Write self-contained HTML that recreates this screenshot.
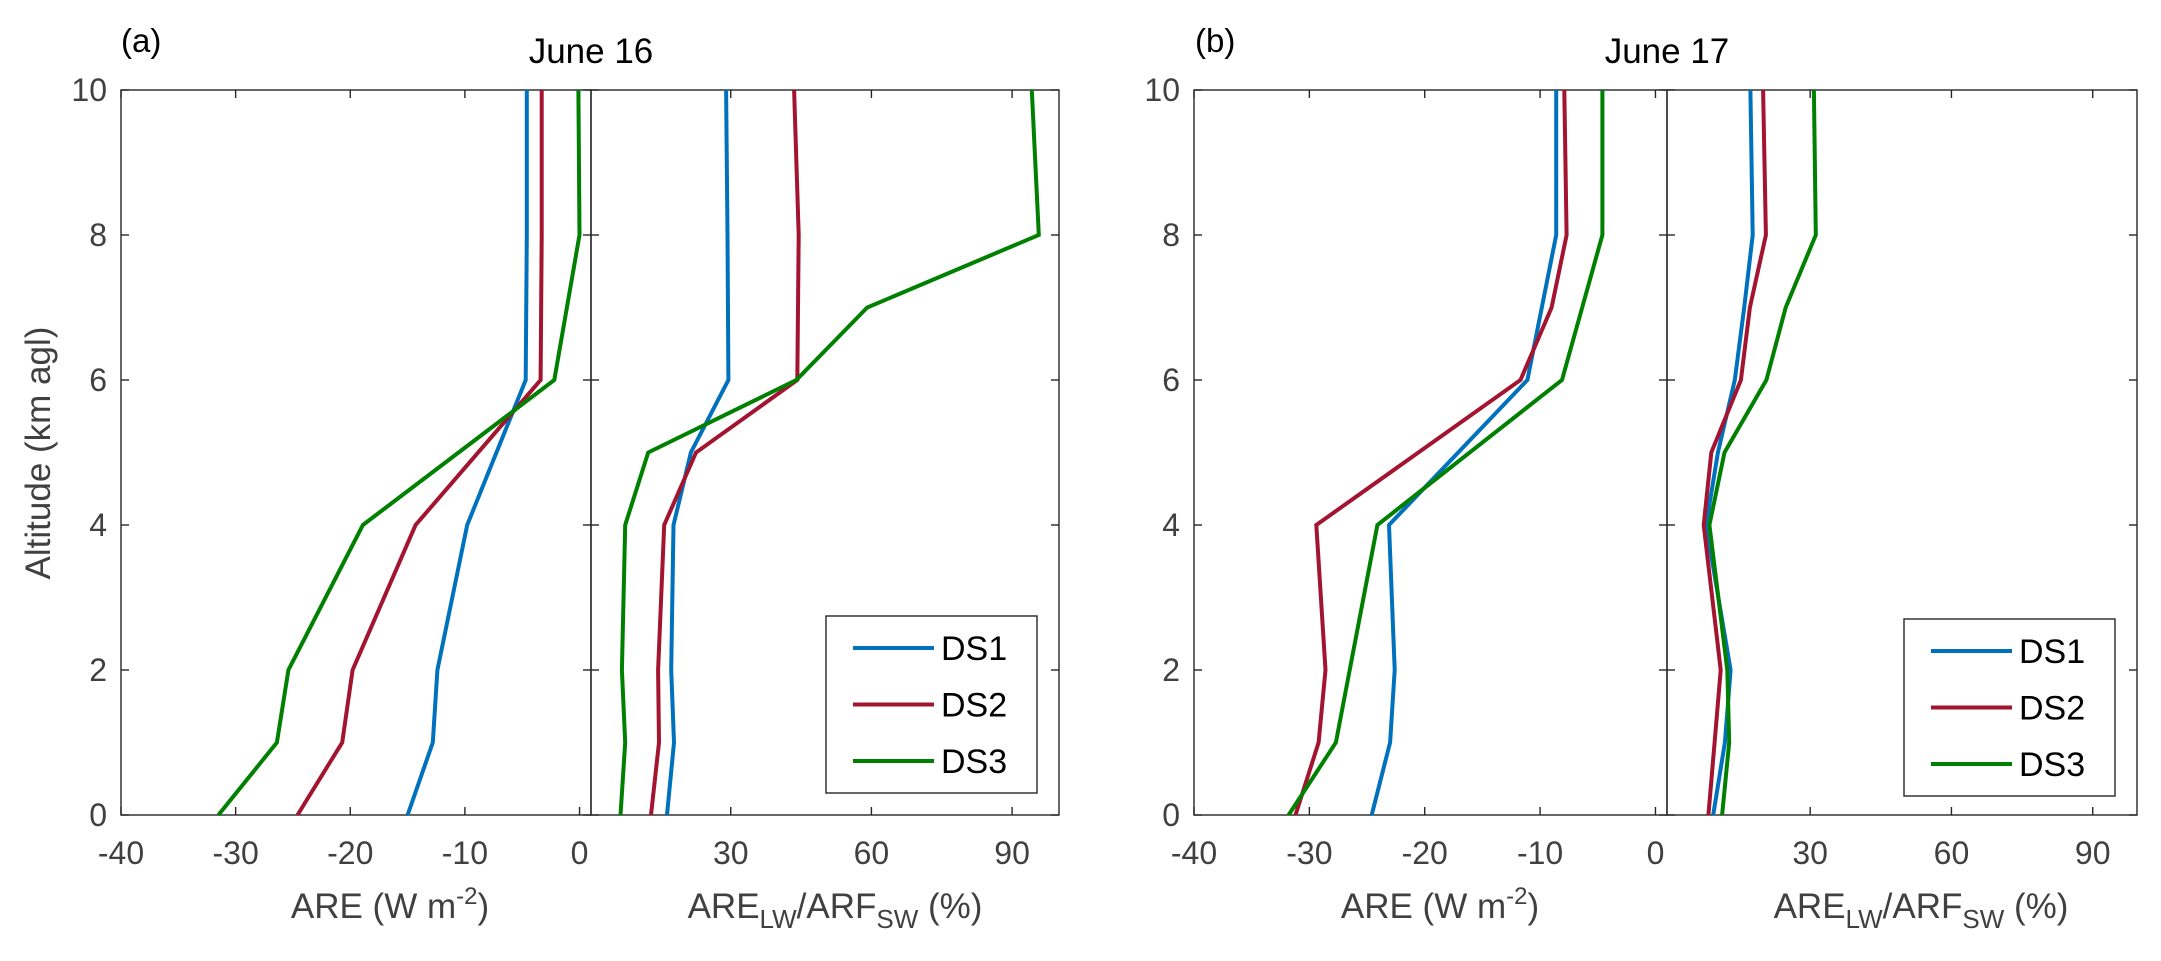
<!DOCTYPE html>
<html><head><meta charset="utf-8"><style>
body{margin:0;background:#fff}
svg{display:block;font-family:"Liberation Sans",Arial,sans-serif}
</style></head><body>
<svg id="chart" width="2161" height="961" viewBox="0 0 2161 961" xmlns="http://www.w3.org/2000/svg"></svg>
<script>
// ---- data ----
const seriesNames = ["DS1","DS2","DS3"];
const colors = ["#0072BD","#A2142F","#008000"];
const altTicks = [0,2,4,6,8,10];
const areTicks = [-40,-30,-20,-10,0];
const ratioTicks = [30,60,90];
// Panel (a) June 16, ARE
const a_are_alt = [0,1,2,4,6,8,10];
const a_are_ds1 = [-15,-12.8,-12.4,-9.8,-4.7,-4.6,-4.6];
const a_are_ds2 = [-24.6,-20.7,-19.8,-14.3,-3.4,-3.3,-3.3];
const a_are_ds3 = [-31.5,-26.4,-25.4,-18.9,-2.2,0,-0.1];
// Panel (a) ratio
const a_rat_alt12 = [0,1,2,4,5,6,8,10];
const a_rat_ds1 = [16.4,17.9,17.3,17.8,21.5,29.5,29.3,29.0];
const a_rat_ds2 = [13,14.7,14.5,15.8,22.6,44.2,44.5,43.5];
const a_rat_alt3 = [0,1,2,4,5,6,7,8,10];
const a_rat_ds3 = [6.5,7.5,6.8,7.5,12.4,44,59.1,95.7,94.2];
// Panel (b) June 17, ARE
const b_are_alt1 = [0,1,2,4,6,8,10];
const b_are_ds1 = [-24.6,-23.0,-22.6,-23.1,-11.1,-8.6,-8.6];
const b_are_alt2 = [0,1,2,4,6,7,8,10];
const b_are_ds2 = [-31.2,-29.2,-28.6,-29.4,-11.7,-9.0,-7.7,-7.9];
const b_are_alt3 = [0,1,2,4,6,8,10];
const b_are_ds3 = [-31.8,-27.7,-26.5,-24.1,-8.1,-4.6,-4.6];
// Panel (b) ratio
const b_rat_alt = [0,1,2,4,5,6,7,8,10];
const b_rat_ds1 = [9.4,11.9,13.1,7.9,10.4,14.0,16.0,17.8,17.3];
const b_rat_ds2 = [8.4,9.7,11.0,7.4,9.0,15.3,17.2,20.6,20.0];
const b_rat_ds3 = [11.3,12.8,12.4,8.6,11.8,20.7,24.8,31.2,30.8];

const NS="http://www.w3.org/2000/svg";
const svg=document.getElementById('chart');
function mk(tag,attrs,parent){const e=document.createElementNS(NS,tag);for(const k in attrs)e.setAttribute(k,attrs[k]);(parent||svg).appendChild(e);return e;}
const TOP=90,BOT=815;
function yS(v){return BOT-(v/10)*(BOT-TOP);}

function axes(x0,x1,xmin,xmax,xticks,showY,name){
  const g=mk('g',{});
  
  
  const xS=v=>x0+(v-xmin)/(xmax-xmin)*(x1-x0);
  mk('rect',{x:x0,y:TOP,width:x1-x0,height:BOT-TOP,fill:'none',stroke:'#262626','stroke-width':1.4},g);
  xticks.forEach(t=>{
    const x=xS(t);
    mk('line',{x1:x,x2:x,y1:BOT,y2:BOT-8,stroke:'#262626','stroke-width':1.4},g);
    mk('line',{x1:x,x2:x,y1:TOP,y2:TOP+8,stroke:'#262626','stroke-width':1.4},g);
    const tx=mk('text',{x:x,y:864,'font-size':32,fill:'#404040','text-anchor':'middle'},g);
    tx.textContent=t;
    
    
  });
  altTicks.forEach(t=>{
    const y=yS(t);
    mk('line',{x1:x0,x2:x0+8,y1:y,y2:y,stroke:'#262626','stroke-width':1.4},g);
    mk('line',{x1:x1,x2:x1-8,y1:y,y2:y,stroke:'#262626','stroke-width':1.4},g);
    if(showY){
      const tx=mk('text',{x:x0-14,y:y+11,'font-size':32,fill:'#404040','text-anchor':'end'},g);
      tx.textContent=t;
      
      
    }
  });
  return xS;
}
function line(xS,xs,alts,color,name){
  const pts=xs.map((v,i)=>xS(v).toFixed(1)+','+yS(alts[i]).toFixed(1)).join(' ');
  const p=mk('polyline',{points:pts,fill:'none',stroke:color,'stroke-width':4,'stroke-linejoin':'miter'});
  
  
}
function legend(x,y,name){
  const g=mk('g',{});
  
  
  mk('rect',{x:x,y:y,width:211,height:177,fill:'#fff',stroke:'#262626','stroke-width':1.4},g);
  seriesNames.forEach((n,i)=>{
    const yy=y+32+i*56.5;
    mk('line',{x1:x+27,x2:x+108,y1:yy,y2:yy,stroke:colors[i],'stroke-width':4},g);
    const t=mk('text',{x:x+115,y:yy+12,'font-size':34,fill:'#000'},g);
    t.textContent=n;
    
    
  });
}
function txt(x,y,s,size,anchor,name,fill){
  const t=mk('text',{x:x,y:y,'font-size':size,'text-anchor':anchor,fill:fill||'#000'});
  t.innerHTML=s;
  
  
  return t;
}

// Panel a
const aL=axes(121,591,-40,1,areTicks,true,'panel-a-are-axes');
const aR=axes(591,1059,0.2,100,ratioTicks,false,'panel-a-ratio-axes');
line(aL,a_are_ds1,a_are_alt,colors[0],'a-are-ds1');
line(aL,a_are_ds2,a_are_alt,colors[1],'a-are-ds2');
line(aL,a_are_ds3,a_are_alt,colors[2],'a-are-ds3');
line(aR,a_rat_ds1,a_rat_alt12,colors[0],'a-ratio-ds1');
line(aR,a_rat_ds2,a_rat_alt12,colors[1],'a-ratio-ds2');
line(aR,a_rat_ds3,a_rat_alt3,colors[2],'a-ratio-ds3');
legend(826,616,'legend-a');
// Panel b
const bL=axes(1194,1667,-40,1,areTicks,true,'panel-b-are-axes');
const bR=axes(1667,2137,-0.4,99.4,ratioTicks,false,'panel-b-ratio-axes');
line(bL,b_are_ds1,b_are_alt1,colors[0],'b-are-ds1');
line(bL,b_are_ds2,b_are_alt2,colors[1],'b-are-ds2');
line(bL,b_are_ds3,b_are_alt3,colors[2],'b-are-ds3');
line(bR,b_rat_ds1,b_rat_alt,colors[0],'b-ratio-ds1');
line(bR,b_rat_ds2,b_rat_alt,colors[1],'b-ratio-ds2');
line(bR,b_rat_ds3,b_rat_alt,colors[2],'b-ratio-ds3');
legend(1904,619,'legend-b');

// Labels
txt(121,52,'(a)',33,'start','panel-a-label');
txt(1195,52,'(b)',33,'start','panel-b-label');
txt(591,63,'June 16',35,'middle','title-june-16');
txt(1667,63,'June 17',35,'middle','title-june-17');
const areLbl='ARE (W m<tspan dy="-14" font-size="24">-2</tspan><tspan dy="14">)</tspan>';
const ratLbl='ARE<tspan dy="10" font-size="26">LW</tspan><tspan dy="-10">/ARF</tspan><tspan dy="10" font-size="26">SW</tspan><tspan dy="-10"> (%)</tspan>';
txt(390,918,areLbl,35,'middle','x-axis-title-are-a','#404040');
txt(835,918,ratLbl,35,'middle','x-axis-title-ratio-a','#404040');
txt(1440,918,areLbl,35,'middle','x-axis-title-are-b','#404040');
txt(1921,918,ratLbl,35,'middle','x-axis-title-ratio-b','#404040');
const yl=txt(0,0,'Altitude (km agl)',35,'middle','y-axis-title','#404040');
yl.setAttribute('transform','translate(50,453) rotate(-90)');
</script>
</body></html>
